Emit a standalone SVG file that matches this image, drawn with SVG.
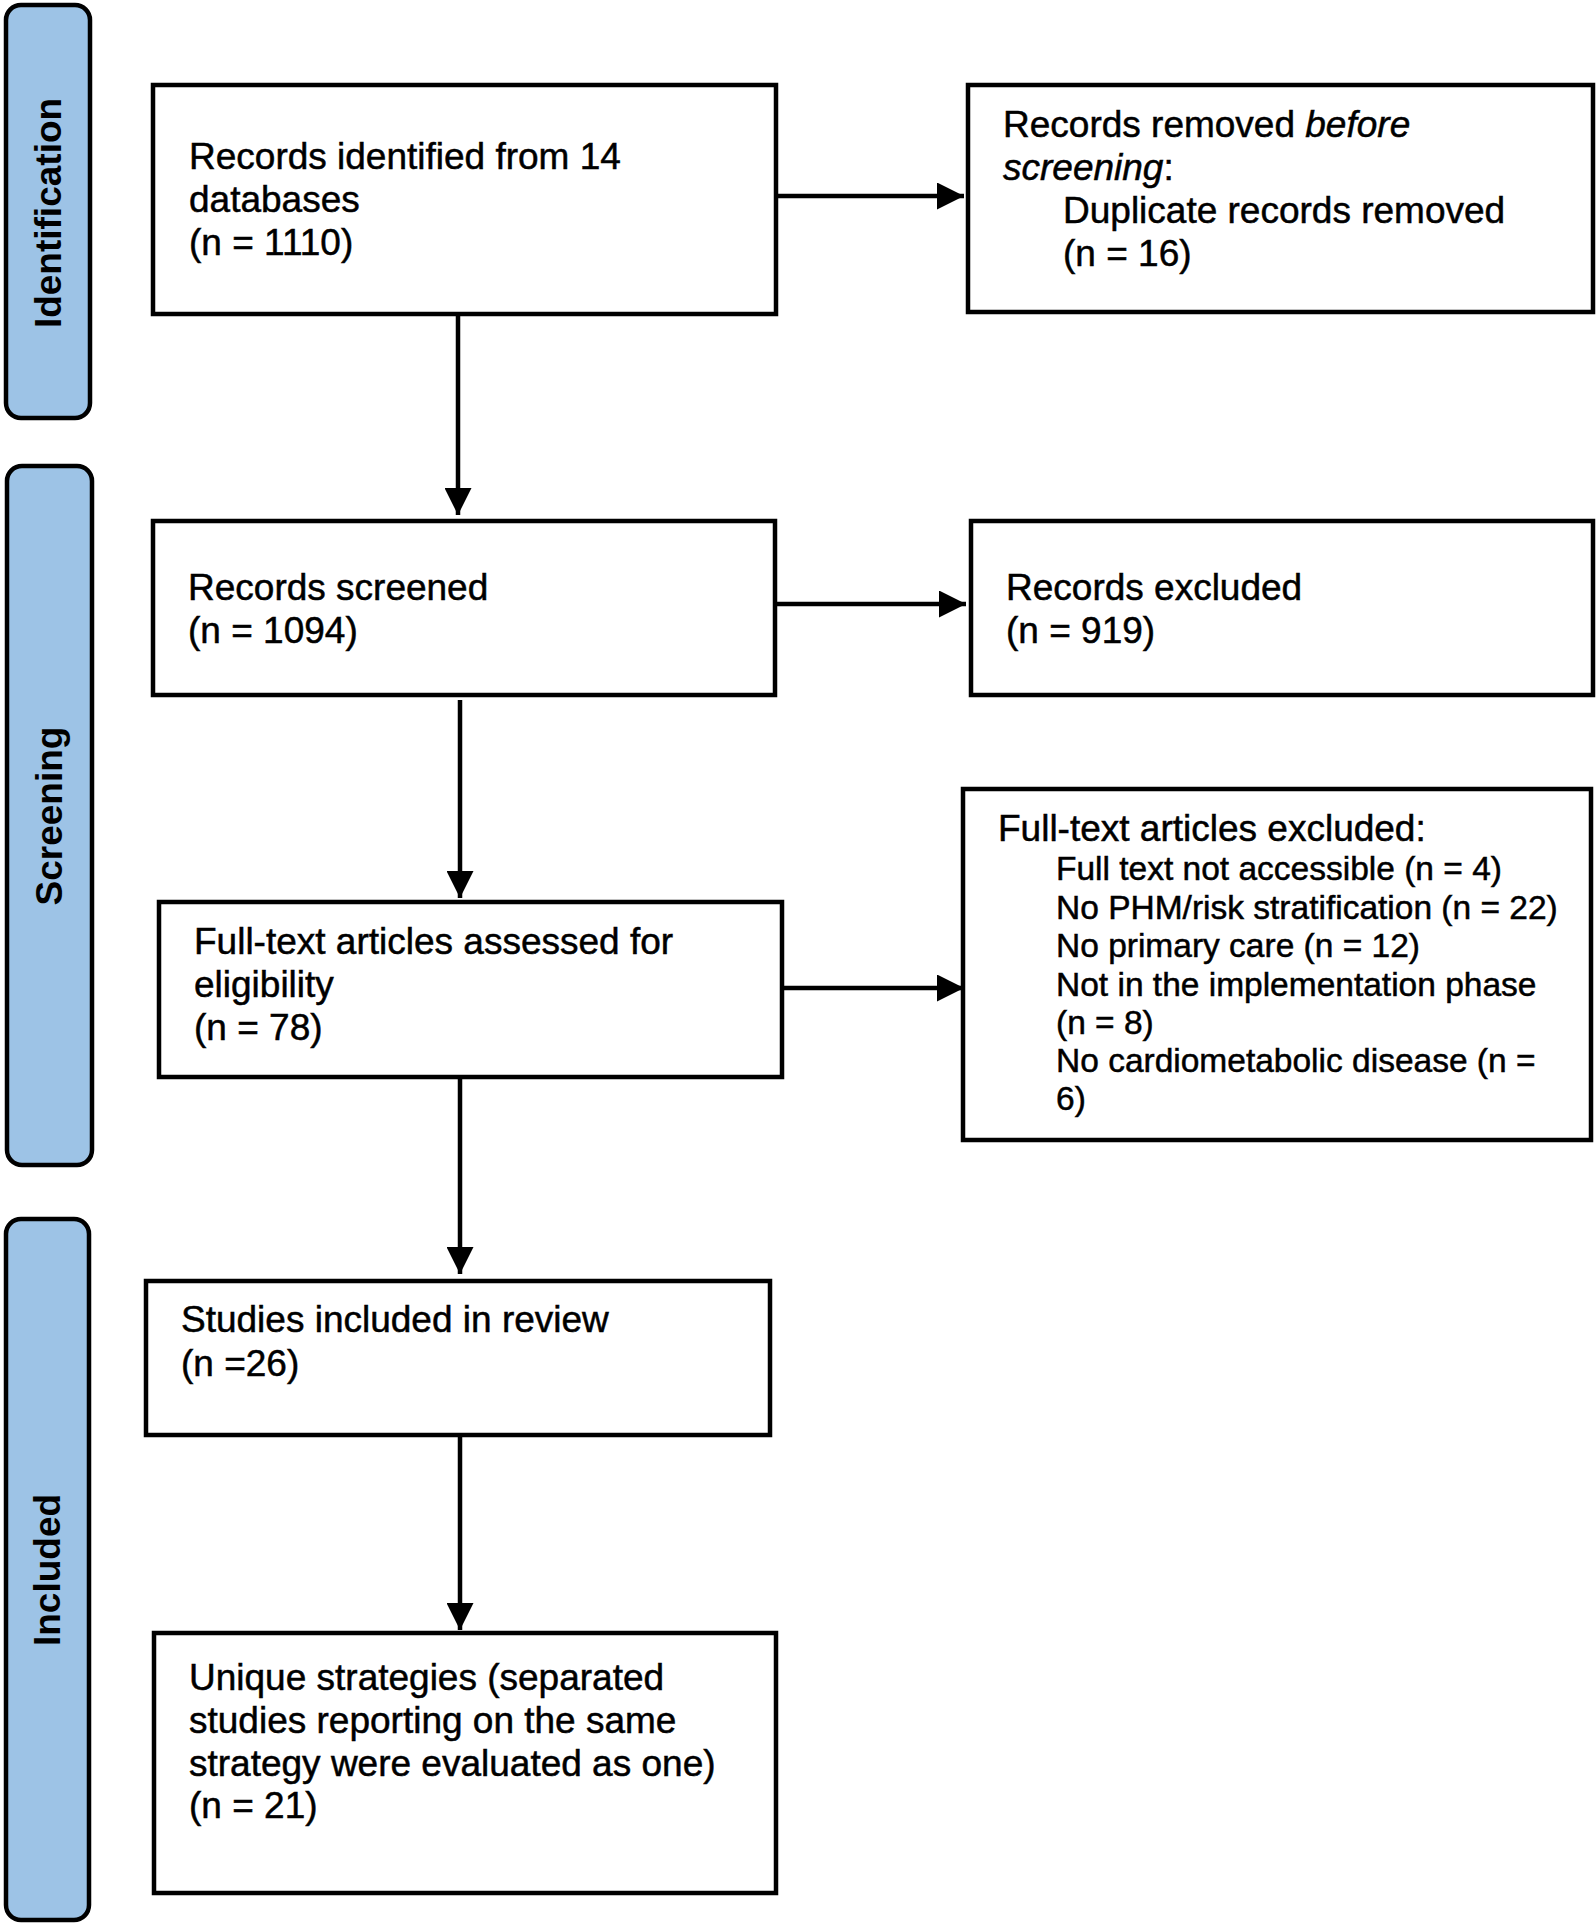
<svg xmlns="http://www.w3.org/2000/svg" width="1596" height="1925" viewBox="0 0 1596 1925">
<style>
.bg{fill:#ffffff}
.box{fill:#ffffff;stroke:#000000;stroke-width:4.5}
.phase{fill:#9dc3e6;stroke:#000000;stroke-width:4.5}
.t{font-family:"Liberation Sans",Arial,sans-serif;font-size:37px;fill:#000000;stroke:#000000;stroke-width:0.5}
.s{font-family:"Liberation Sans",Arial,sans-serif;font-size:33.5px;fill:#000000;stroke:#000000;stroke-width:0.5}
.lbl{font-family:"Liberation Sans",Arial,sans-serif;font-size:37px;font-weight:bold;fill:#000000;text-anchor:middle}
.ln{stroke:#000000;stroke-width:4.5;fill:none}
</style>
<defs>
<marker id="ah" viewBox="0 0 27 27" refX="27" refY="13.5" markerWidth="27" markerHeight="27" markerUnits="userSpaceOnUse" orient="auto">
<path d="M0,0 L27,13.5 L0,27 Z" fill="#000000"/>
</marker>
</defs>
<rect class="bg" x="0" y="0" width="1596" height="1925"/>
<g id="phase-identification">
<rect class="phase" x="6" y="5" width="84" height="413" rx="15" ry="15"/>
<text class="lbl" transform="translate(61,213) rotate(-90)">Identification</text>
</g>
<g id="phase-screening">
<rect class="phase" x="7" y="466" width="85" height="699" rx="15" ry="15"/>
<text class="lbl" transform="translate(62,816) rotate(-90)">Screening</text>
</g>
<g id="phase-included">
<rect class="phase" x="6" y="1219" width="83" height="701" rx="15" ry="15"/>
<text class="lbl" transform="translate(60,1570) rotate(-90)">Included</text>
</g>
<g id="connectors">
<line class="ln" x1="776" y1="196" x2="964" y2="196" marker-end="url(#ah)"/>
<line class="ln" x1="458" y1="314" x2="458" y2="515" marker-end="url(#ah)"/>
<line class="ln" x1="775" y1="604" x2="966" y2="604" marker-end="url(#ah)"/>
<line class="ln" x1="460" y1="700" x2="460" y2="898" marker-end="url(#ah)"/>
<line class="ln" x1="782" y1="988" x2="964" y2="988" marker-end="url(#ah)"/>
<line class="ln" x1="460" y1="1077" x2="460" y2="1274" marker-end="url(#ah)"/>
<line class="ln" x1="460" y1="1435" x2="460" y2="1630" marker-end="url(#ah)"/>
</g>
<g id="node-identified">
<rect class="box" x="153" y="85" width="623" height="229"/>
<text class="t" x="189" y="169">Records identified from 14</text>
<text class="t" x="189" y="212">databases</text>
<text class="t" x="189" y="255">(n = 1110)</text>
</g>
<g id="node-removed">
<rect class="box" x="968" y="85" width="625" height="227"/>
<text class="t" x="1003" y="137">Records removed <tspan font-style="italic">before</tspan></text>
<text class="t" x="1003" y="180"><tspan font-style="italic">screening</tspan>:</text>
<text class="t" x="1063" y="223">Duplicate records removed</text>
<text class="t" x="1063" y="266">(n = 16)</text>
</g>
<g id="node-screened">
<rect class="box" x="153" y="521" width="622" height="174"/>
<text class="t" x="188" y="600">Records screened</text>
<text class="t" x="188" y="643">(n = 1094)</text>
</g>
<g id="node-excluded">
<rect class="box" x="971" y="521" width="622" height="174"/>
<text class="t" x="1006" y="600">Records excluded</text>
<text class="t" x="1006" y="643">(n = 919)</text>
</g>
<g id="node-assessed">
<rect class="box" x="159" y="902" width="623" height="175"/>
<text class="t" x="194" y="954">Full-text articles assessed for</text>
<text class="t" x="194" y="997">eligibility</text>
<text class="t" x="194" y="1040">(n = 78)</text>
</g>
<g id="node-fulltext-excluded">
<rect class="box" x="963" y="789" width="628" height="351"/>
<text class="t" x="998" y="841">Full-text articles excluded:</text>
<text class="s" x="1056" y="880">Full text not accessible (n = 4)</text>
<text class="s" x="1056" y="919">No PHM/risk stratification (n = 22)</text>
<text class="s" x="1056" y="957">No primary care (n = 12)</text>
<text class="s" x="1056" y="996">Not in the implementation phase</text>
<text class="s" x="1056" y="1034">(n = 8)</text>
<text class="s" x="1056" y="1072">No cardiometabolic disease (n =</text>
<text class="s" x="1056" y="1110">6)</text>
</g>
<g id="node-included">
<rect class="box" x="146" y="1281" width="624" height="154"/>
<text class="t" x="181" y="1332">Studies included in review</text>
<text class="t" x="181" y="1376">(n =26)</text>
</g>
<g id="node-unique">
<rect class="box" x="154" y="1633" width="622" height="260"/>
<text class="t" x="189" y="1690">Unique strategies (separated</text>
<text class="t" x="189" y="1733">studies reporting on the same</text>
<text class="t" x="189" y="1776">strategy were evaluated as one)</text>
<text class="t" x="189" y="1818">(n = 21)</text>
</g>
</svg>
